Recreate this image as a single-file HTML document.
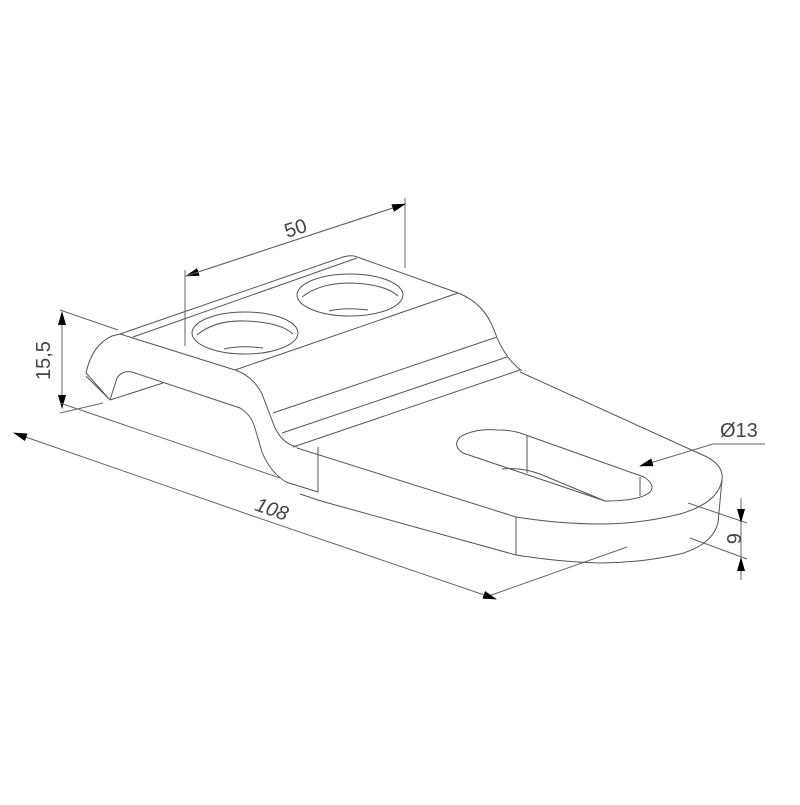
<!DOCTYPE html>
<html><head><meta charset="utf-8"><style>html,body{margin:0;padding:0;background:#fff}</style></head>
<body>
<svg width="800" height="800" viewBox="0 0 800 800" xmlns="http://www.w3.org/2000/svg">
<defs>
<marker id="a" markerWidth="14" markerHeight="8" refX="13" refY="4" orient="auto" markerUnits="userSpaceOnUse"><path d="M0,0 L14,4 L0,8 z" fill="#000"/></marker>
</defs>
<g fill="none" stroke="#666" stroke-width="1">
<line x1="185" y1="270" x2="185" y2="346"/>
<line x1="405" y1="198" x2="405" y2="268"/>
<line x1="405" y1="204" x2="186" y2="276" marker-end="url(#a)"/>
<line x1="186" y1="276" x2="405" y2="204" marker-end="url(#a)"/>
<line x1="60" y1="310" x2="118" y2="330"/>
<line x1="60" y1="413" x2="103" y2="403"/>
<line x1="62" y1="360" x2="62" y2="312" marker-end="url(#a)"/>
<line x1="62" y1="360" x2="62" y2="408" marker-end="url(#a)"/>
<line x1="60" y1="403" x2="280" y2="478"/>
<line x1="483" y1="598" x2="627" y2="547"/>
<line x1="250" y1="515" x2="14" y2="433" marker-end="url(#a)"/>
<line x1="250" y1="515" x2="496" y2="599" marker-end="url(#a)"/>
<!-- dim 6 -->
<line x1="688" y1="503" x2="747" y2="523"/>
<line x1="690" y1="538" x2="747" y2="559"/>
<line x1="741" y1="498" x2="741" y2="522" marker-end="url(#a)"/>
<line x1="741" y1="580" x2="741" y2="558" marker-end="url(#a)"/>
<line x1="741" y1="522" x2="741" y2="558"/>
<!-- Ø13 -->
<polyline points="765,444 713,444"/>
<line x1="713" y1="444" x2="640" y2="466" marker-end="url(#a)"/>
</g>
<g fill="none" stroke="#555" stroke-width="1">
<path d="M110,400 L86,373 Q92,345 112,336 L120,334 L343,257 Q352,254 360,258 L458,293 Q484,303 494,330 Q504,358 522,371"/>
<line x1="133" y1="337" x2="357" y2="258"/>
<path d="M120,334 L235,370 Q253,376 262,394 L275,428 Q283,444 297,447"/>
<path d="M110,400 L117,378 Q122,370 132,372 L240,408 Q250,414 254,425 L262,452 Q270,472 286,482 L318,492"/>
<line x1="110" y1="400" x2="163" y2="383"/>
<line x1="86" y1="376" x2="108" y2="398"/>
<line x1="235" y1="370" x2="458" y2="293"/>
<line x1="273" y1="413" x2="497" y2="337"/>
<line x1="282" y1="433" x2="507" y2="357"/>
<line x1="293" y1="447" x2="520" y2="370"/>
<ellipse cx="245" cy="333" rx="53" ry="21"/>
<path d="M197,335 Q215,320 245,321 Q280,322 293,334"/>
<path d="M224,349 Q240,345 263,348"/>
<ellipse cx="350" cy="295" rx="53" ry="21"/>
<path d="M302,297 Q320,283 350,283 Q385,284 398,296"/>
<path d="M329,311 Q345,307 368,310"/>
<path d="M520,372 L707,457 Q724,466 722,480 Q718,503 680,514 Q640,524 600,524 Q560,524 516,517 L297,448"/>
<line x1="722" y1="480" x2="718" y2="523"/>
<path d="M718,523 Q712,545 680,554 Q640,563 600,563 Q560,562 516,555 L321,501 L300,494"/>
<line x1="318" y1="447" x2="318" y2="492"/>
<line x1="516" y1="517" x2="516" y2="555"/>
<path d="M523,434 L644,477 Q656,485 650,492 Q640,501 605,501 L463,453 Q452,446 460,437 Q475,428 498,430 Q512,430 523,434"/>
<line x1="527" y1="436" x2="527" y2="473"/>
<line x1="640" y1="477" x2="640" y2="496"/>
<path d="M502,469 Q520,467 540,474 L605,501"/>
</g>
<g fill="#444" font-family="'Liberation Sans', sans-serif" font-size="20">
<text transform="translate(287,238) rotate(-18)">50</text>
<text transform="translate(50,380) rotate(-90)">15,5</text>
<text transform="translate(254,510) rotate(19)" font-style="italic">108</text>
<text x="720" y="437">Ø13</text>
<text transform="translate(727,533) rotate(90)">6</text>
</g>
</svg>
</body></html>
